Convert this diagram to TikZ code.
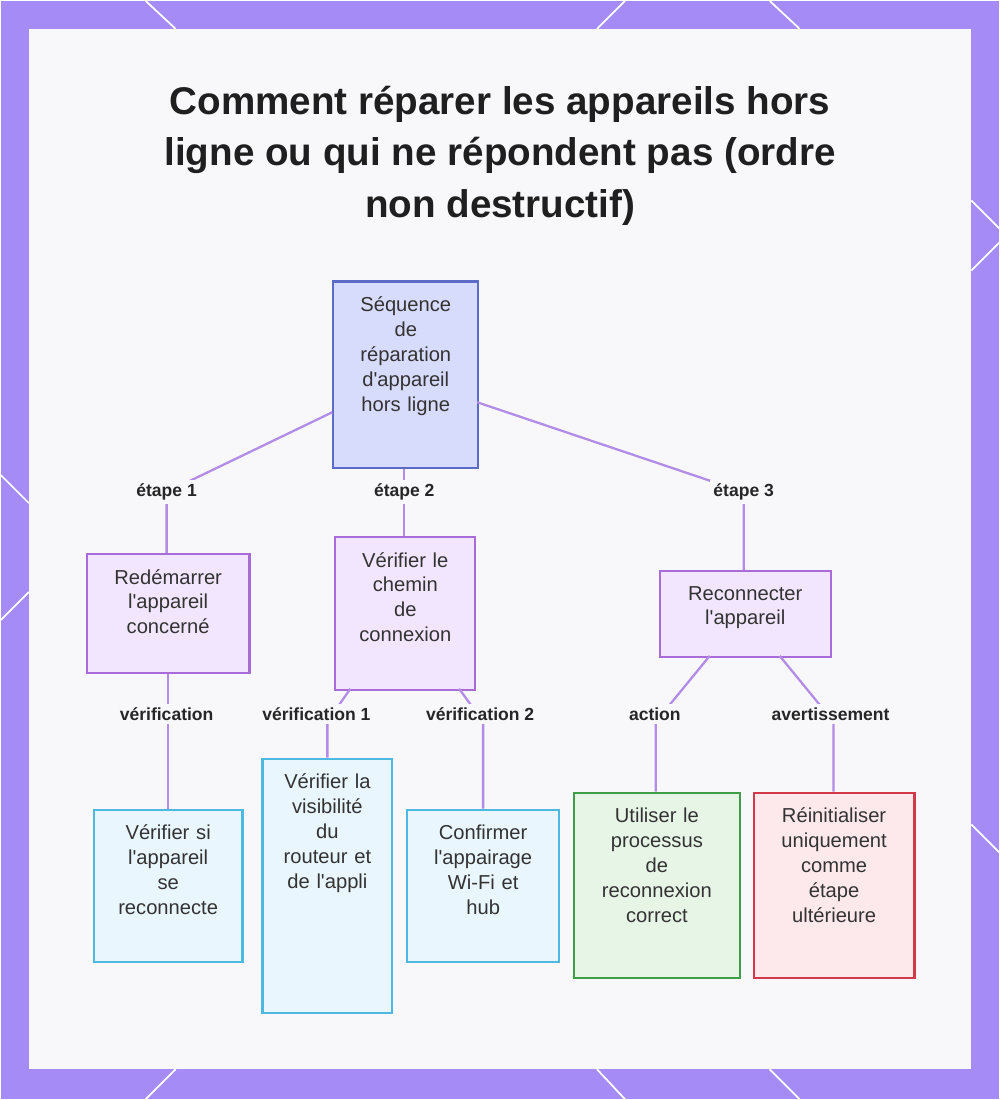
\documentclass[tikz,border=0pt]{standalone}
\usepackage{fontspec}
\setmainfont{Liberation Sans}
\usetikzlibrary{positioning}
\definecolor{frame}{HTML}{A48BF5}
\definecolor{panel}{HTML}{F8F8FA}
\definecolor{link}{HTML}{B28CE6}
\definecolor{rootfill}{HTML}{D8DCFC}
\definecolor{rootline}{HTML}{5C6BC8}
\definecolor{stepfill}{HTML}{F1E6FD}
\definecolor{stepline}{HTML}{A86BD8}
\definecolor{leaffill}{HTML}{E9F6FD}
\definecolor{leafline}{HTML}{4DB9E2}
\definecolor{okfill}{HTML}{E7F5E7}
\definecolor{okline}{HTML}{3E9E48}
\definecolor{warnfill}{HTML}{FDE9EC}
\definecolor{warnline}{HTML}{D23A4C}
\tikzset{
  box/.style={draw, line width=1.2pt, anchor=north west, inner sep=0pt},
  rootbox/.style={box, fill=rootfill, draw=rootline},
  stepbox/.style={box, fill=stepfill, draw=stepline},
  leafbox/.style={box, fill=leaffill, draw=leafline},
  okbox/.style={box, fill=okfill, draw=okline},
  warnbox/.style={box, fill=warnfill, draw=warnline},
  tag/.style={font=\bfseries\fontsize{10}{12}\selectfont, fill=panel, inner sep=2pt, text=black!85},
  link/.style={draw=link, line width=1.3pt}
}
\newcommand{\ap}{\textquotesingle}
% box with size and top-aligned text
\newcommand{\boxat}[7]{%
  \node[#1, minimum width=#4*0.02cm, minimum height=#5*0.02cm] (#2) at (#3) {};
  \node[anchor=north, align=center, font=\fontsize{11.5}{14.2}\selectfont, text=black!80,
    text width=#6*0.02cm] at ([yshift=-0.2cm]#2.north) {#7};}
\begin{document}
\begin{tikzpicture}[x=0.02cm, y=-0.02cm]
\fill[frame] (0,0) rectangle (1000,1100);
\fill[panel] (28,28) rectangle (972,1070);
\foreach \a/\b in {{145,0}/{175,28}, {625,0}/{597,28}, {770,0}/{800,28}, {972,200}/{1000,228},
  {972,270}/{1000,242}, {0,475}/{28,503}, {0,620}/{28,592}, {972,825}/{1000,853},
  {145,1100}/{175,1070}, {597,1070}/{625,1100}, {770,1070}/{800,1100}}
  \draw[white, line width=1pt] (\a) -- (\b);
\node[font=\bfseries\fontsize{22}{29.5}\selectfont, align=center, text=black!88] (title) at (500,155)
  {Comment réparer les appareils hors\\ligne ou qui ne répondent pas (ordre\\non destructif)};
% boxes
\boxat{rootbox}{root}{332,280}{145}{187}{130}{Séquence\\de\\réparation\\d\ap appareil\\hors ligne}
\boxat{stepbox}{restart}{85,553}{163}{119}{150}{Redémarrer\\l\ap appareil\\concerné}
\boxat{stepbox}{path}{334,536}{140}{153}{130}{Vérifier le\\chemin\\de\\connexion}
\boxat{stepbox}{reconnect}{659,570}{171}{86}{160}{Reconnecter\\l\ap appareil}
\boxat{leafbox}{check}{92,809}{149}{153}{140}{Vérifier si\\l\ap appareil\\se\\reconnecte}
\boxat{leafbox}{router}{261,758}{130}{255}{120}{Vérifier la\\visibilité\\du\\routeur et\\de l\ap appli}
\boxat{leafbox}{pairing}{406,809}{152}{153}{140}{Confirmer\\l\ap appairage\\Wi-Fi et\\hub}
\boxat{okbox}{process}{573,792}{166}{186}{150}{Utiliser le\\processus\\de\\reconnexion\\correct}
\boxat{warnbox}{reset}{753,792}{161}{186}{150}{Réinitialiser\\uniquement\\comme\\étape\\ultérieure}
% connectors
\coordinate (r1) at (332,412);
\coordinate (r3) at (477,402);
\node[tag] (e1) at (166,492) {étape 1};
\node[tag] (e2) at (404,492) {étape 2};
\node[tag] (e3) at (744,492) {étape 3};
\draw[link] (r1) -- (e1.center) -- (restart.north -| e1);
\draw[link] (root.south -| e2) -- (path.north -| e2);
\draw[link] (r3) -- (e3.center) -- (reconnect.north -| e3);
\node[tag] at (e1) {étape 1};
\node[tag] at (e2) {étape 2};
\node[tag] at (e3) {étape 3};
\node[tag] (v0) at (166,714) {vérification};
\node[tag] (v1) at (316,714) {vérification 1};
\node[tag] (v2) at (480,714) {vérification 2};
\node[tag] (ac) at (655,714) {action};
\node[tag] (av) at (831,714) {avertissement};
\coordinate (a1) at (327,722); \coordinate (a2) at (483,722);
\coordinate (a3) at (656,722); \coordinate (a4) at (834,722);
\draw[link] (restart.south) -- (check.north -| restart.south);
\draw[link] (350,689) -- (a1) -- (router.north -| a1);
\draw[link] (459,689) -- (a2) -- (pairing.north -| a2);
\draw[link] (710,656) -- (a3) -- (process.north -| a3);
\draw[link] (780,656) -- (a4) -- (reset.north -| a4);
\node[tag] at (v0) {vérification};
\node[tag] at (v1) {vérification 1};
\node[tag] at (v2) {vérification 2};
\node[tag] at (ac) {action};
\node[tag] at (av) {avertissement};
\end{tikzpicture}
\end{document}
